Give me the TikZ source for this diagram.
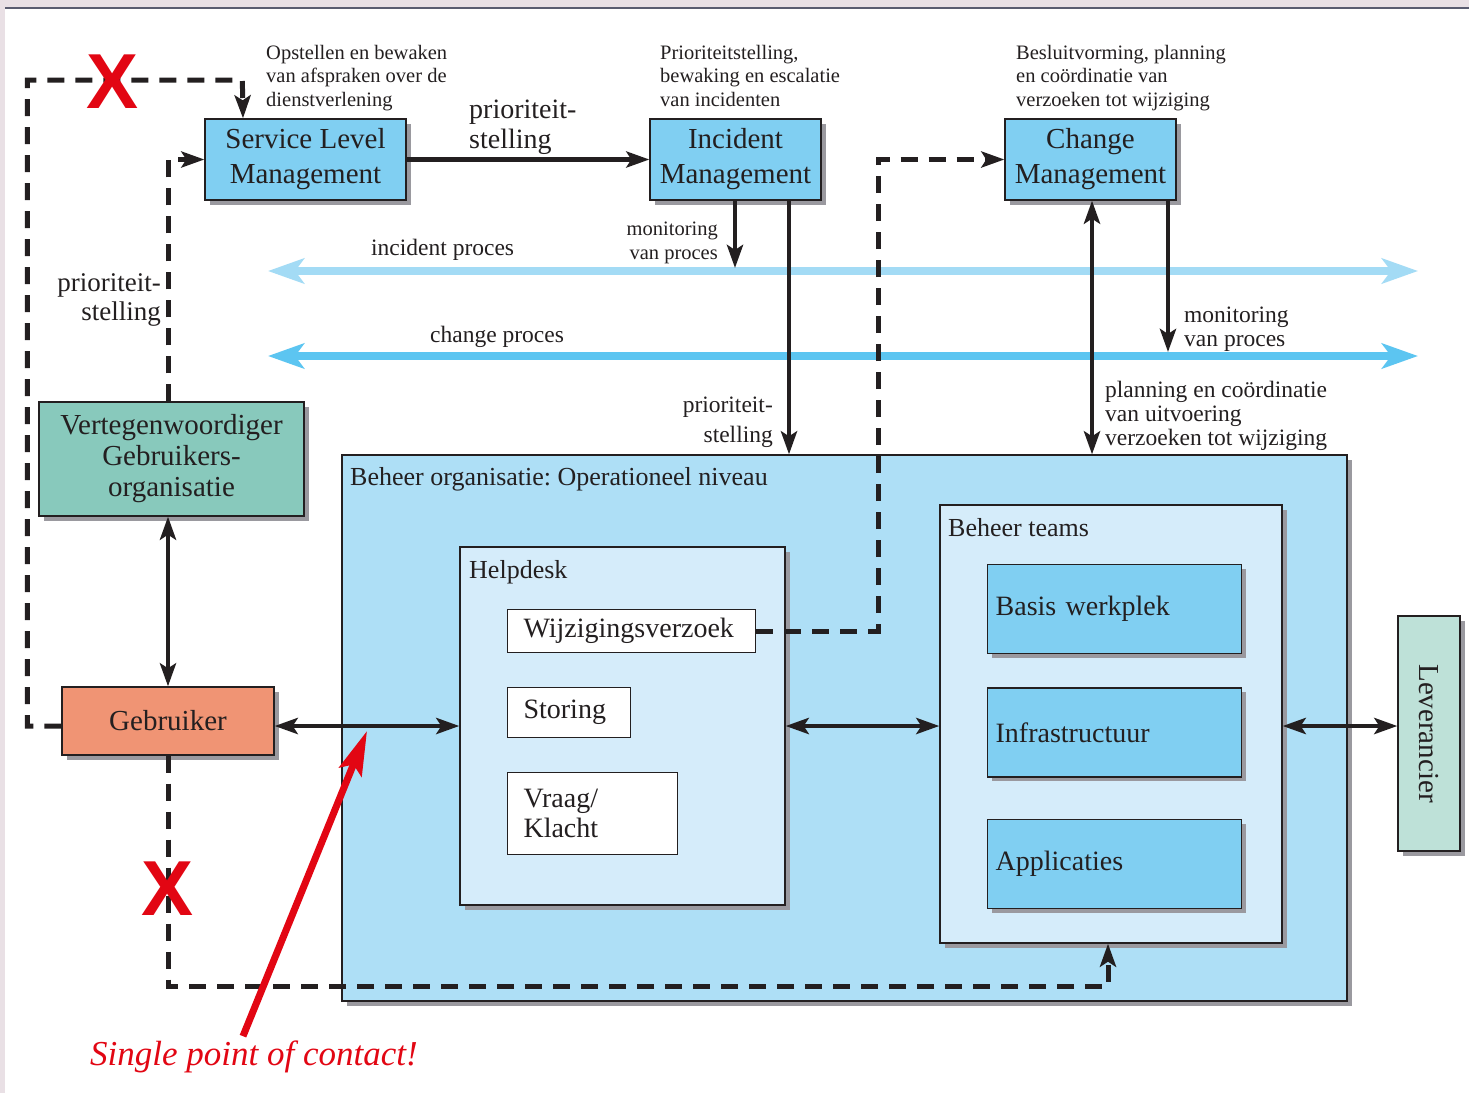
\documentclass[tikz,border=0pt]{standalone}
\usepackage{fontspec}
\setmainfont{Liberation Serif}
\newfontfamily\crossfont{Liberation Sans}
\usepackage{xcolor}
\usepackage{tikz}
\usetikzlibrary{arrows.meta, shadows, positioning}
\frenchspacing

\definecolor{inkblack}{HTML}{231F20}
\definecolor{slmblue}{HTML}{80CFF2}
\definecolor{orgblue}{HTML}{AEDFF6}
\definecolor{paleblue}{HTML}{D5ECFA}
\definecolor{repgreen}{HTML}{88C9BC}
\definecolor{usersalmon}{HTML}{F09474}
\definecolor{suppmint}{HTML}{BEE1D8}
\definecolor{incline}{HTML}{A3DBF5}
\definecolor{chgline}{HTML}{5CC5F1}
\definecolor{shadowgray}{HTML}{9A999F}
\definecolor{spocred}{HTML}{E20613}
\definecolor{framepink}{HTML}{E9E0E5}
\definecolor{frameline}{HTML}{5A5C70}

\tikzstyle{shadowed} = [drop shadow={shadow xshift=4.5pt, shadow yshift=-4.5pt, fill=shadowgray, opacity=1}]
\tikzstyle{mgmt} = [rectangle, draw=inkblack, line width=1.3pt, fill=slmblue, minimum width=171pt, minimum height=81pt, inner sep=0pt, align=center, font=\fontsize{29}{35}\selectfont, shadowed]
\tikzstyle{party} = [rectangle, draw=inkblack, line width=1.3pt, inner sep=0pt, align=center, font=\fontsize{29}{31}\selectfont, shadowed]
\tikzstyle{container} = [rectangle, draw=inkblack, line width=1.3pt, inner sep=0pt, shadowed]
\tikzstyle{itembox} = [rectangle, draw=inkblack, line width=1.1pt, fill=white, inner xsep=16pt, inner ysep=0pt, align=left, font=\fontsize{28}{30}\selectfont]
\tikzstyle{teambox} = [rectangle, draw=inkblack, line width=1.3pt, fill=slmblue, minimum width=254pt, minimum height=89pt, text width=238pt, inner xsep=8pt, inner ysep=0pt, align=left, font=\fontsize{28}{30}\selectfont, shadowed]
\tikzstyle{boxlabel} = [inner sep=0pt, anchor=base west, font=\fontsize{26}{28}\selectfont]
\tikzstyle{note} = [inner sep=0pt, align=left, font=\fontsize{20.5}{23.5}\selectfont]
\tikzstyle{flowlabel} = [inner sep=0pt, font=\fontsize{23.5}{24}\selectfont]
\tikzstyle{arrow} = [line width=4.8pt, -{Stealth[length=23pt, width=16pt, inset=5pt]}]
\tikzstyle{twoway} = [line width=4.8pt, {Stealth[length=23pt, width=16pt, inset=5pt]}-{Stealth[length=23pt, width=16pt, inset=5pt]}]
\tikzstyle{dasharrow} = [line width=5pt, dash pattern=on 17pt off 11pt, -{Stealth[length=23pt, width=16pt, inset=5pt]}]
\tikzstyle{procline} = [line width=8pt, {Stealth[length=36pt, width=25pt, inset=9pt]}-{Stealth[length=36pt, width=25pt, inset=9pt]}]
\tikzstyle{redarrow} = [line width=7pt, draw=spocred, -{Stealth[length=44pt, width=24pt, inset=8pt]}]
\tikzstyle{redcross} = [inner sep=0pt, text=spocred, font=\crossfont\bfseries\fontsize{78}{78}\selectfont]

\begin{document}
\begin{tikzpicture}[x=1pt, y=-1pt, color=inkblack]

		% Canvas
		\useasboundingbox (0,0) rectangle (1469,1093);
		\fill[white] (0,0) rectangle (1469,1093);
		\fill[framepink] (0,0) rectangle (1469,8);
		\fill[framepink] (0,8) rectangle (5,1093);
		\draw[frameline, line width=1.2pt] (5,8) -- (1469,8);

		% Process lines
		\coordinate (incL) at (268,271);
		\coordinate (incR) at (1418,271);
		\coordinate (chgL) at (268,356);
		\coordinate (chgR) at (1418,356);
		\draw [procline, draw=incline] (incL) -- (incR);
		\draw [procline, draw=chgline] (chgL) -- (chgR);
		\node [flowlabel, anchor=base west] at (371,255) {incident proces};
		\node [flowlabel, anchor=base west] at (430,342) {change proces};

		% Nodes for management processes
		\node (slm) [mgmt, minimum width=201pt] at (305.5,159.5) {Service Level\\Management};
		\node (im) [mgmt] at (735.5,159.5) {Incident\\Management};
		\node (cm) [mgmt] at (1090.5,159.5) {Change\\Management};

		% Notes above the processes
		\node [note, anchor=base west] at (266,106) {Opstellen en bewaken\\van afspraken over de\\dienstverlening};
		\node [note, anchor=base west] at (660,106) {Prioriteitstelling,\\bewaking en escalatie\\van incidenten};
		\node [note, anchor=base west] at (1016,106) {Besluitvorming, planning\\en co\"ordinatie van\\verzoeken tot wijziging};

		% Nodes for users and supplier
		\node (vg) [party, fill=repgreen, minimum width=265pt, minimum height=114pt] at (171.5,459) {Vertegenwoordiger\\Gebruikers-\\organisatie};
		\node (geb) [party, fill=usersalmon, minimum width=212pt, minimum height=68pt] at (168,721) {Gebruiker};
		\node (lev) [party, fill=suppmint, minimum width=62pt, minimum height=235pt] at (1429,733.5) {\rotatebox{-90}{Leverancier}};

		% Nodes for the operational organisation
		\node (org) [container, fill=orgblue, minimum width=1005pt, minimum height=546pt] at (844.5,728) {};
		\node (hd) [container, fill=paleblue, minimum width=325pt, minimum height=358pt] at (622.5,726) {};
		\node (bt) [container, fill=paleblue, minimum width=342pt, minimum height=438pt] at (1111,724) {};
		\node [boxlabel] at (350,485) {Beheer organisatie: Operationeel niveau};
		\node [boxlabel] at (469,578) {Helpdesk};
		\node [boxlabel] at (948,536) {Beheer teams};

		\node (wv) [itembox, text width=216pt, minimum height=43pt, anchor=north west] at (507,609) {Wijzigingsverzoek};
		\node (sto) [itembox, text width=91pt, minimum height=50pt, below=34pt of wv.south west, anchor=north west] {Storing};
		\node (vk) [itembox, text width=138pt, minimum height=82pt, below=34pt of sto.south west, anchor=north west] {Vraag/\\Klacht};

		\node (bw) [teambox, anchor=north west] at (987,564) {Basis werkplek};
		\node (inf) [teambox, below=33pt of bw] {Infrastructuur};
		\node (app) [teambox, below=41pt of inf] {Applicaties};

		% Arrows between processes
		\draw [arrow] (slm.east) -- (im.west);
		\node [flowlabel, anchor=base west, align=left, font=\fontsize{28}{30}\selectfont] at (469,148) {prioriteit-\\stelling};
		\draw [arrow, shorten >=3pt] ([xshift=-0.5pt]im.south) -- ([xshift=-0.5pt]im.south |- incL);
		\node [note, anchor=base east, align=right, font=\fontsize{20.5}{24}\selectfont] at (718,259) {monitoring\\van proces};
		\draw [arrow] ([xshift=53.5pt]im.south) -- ([xshift=53.5pt]im.south |- org.north);
		\node [flowlabel, anchor=base east, align=right, font=\fontsize{23.5}{30}\selectfont] at (773,442) {prioriteit-\\stelling};
		\draw [twoway] ([xshift=1.5pt]cm.south) -- ([xshift=1.5pt]cm.south |- org.north);
		\node [flowlabel, anchor=base west, align=left] at (1105,445) {planning en co\"ordinatie\\van uitvoering\\verzoeken tot wijziging};
		\draw [arrow, shorten >=4pt] ([xshift=77.5pt]cm.south) -- ([xshift=77.5pt]cm.south |- chgL);
		\node [flowlabel, anchor=base west, align=left] at (1184,346) {monitoring\\van proces};

		% Arrows for users, helpdesk and teams
		\draw [twoway] (geb.north |- vg.south) -- (geb.north);
		\draw [twoway] (geb.east |- hd.west) -- (hd.west);
		\draw [twoway] (hd.east) -- (bt.west |- hd.east);
		\draw [twoway] (bt.east |- hd.east) -- (lev.west |- hd.east);

		% Dashed arrows
		\draw [dasharrow] (geb.west |- hd.west) -- ++(-34,0) |- ++(215,-646) -- ([xshift=-62.5pt]slm.north);
		\draw [dasharrow] (geb.north |- vg.north) |- (slm.west);
		\node [flowlabel, anchor=base east, align=right, font=\fontsize{27}{29}\selectfont] at (161,320) {prioriteit-\\stelling};
		\draw [dasharrow] (wv.east) -- ++(122,0) |- (cm.west);
		\draw [dasharrow] (geb.south) -- ++(0,231) -| ([xshift=-3pt]bt.south);

		% Red crosses over removed paths
		\node (crossTop) [redcross] at (113,82) {X};
		\node (crossBottom) [redcross] at (168,889) {X};

		% Single point of contact
		\coordinate (spoc) at (367,731);
		\node (spocText) [inner sep=0pt, anchor=base west, text=spocred, font=\itshape\fontsize{35}{35}\selectfont] at (90,1065) {Single point of contact!};
		\draw [redarrow] ([xshift=-11pt, yshift=4pt]spocText.north) -- (spoc);

	\end{tikzpicture}
\end{document}
